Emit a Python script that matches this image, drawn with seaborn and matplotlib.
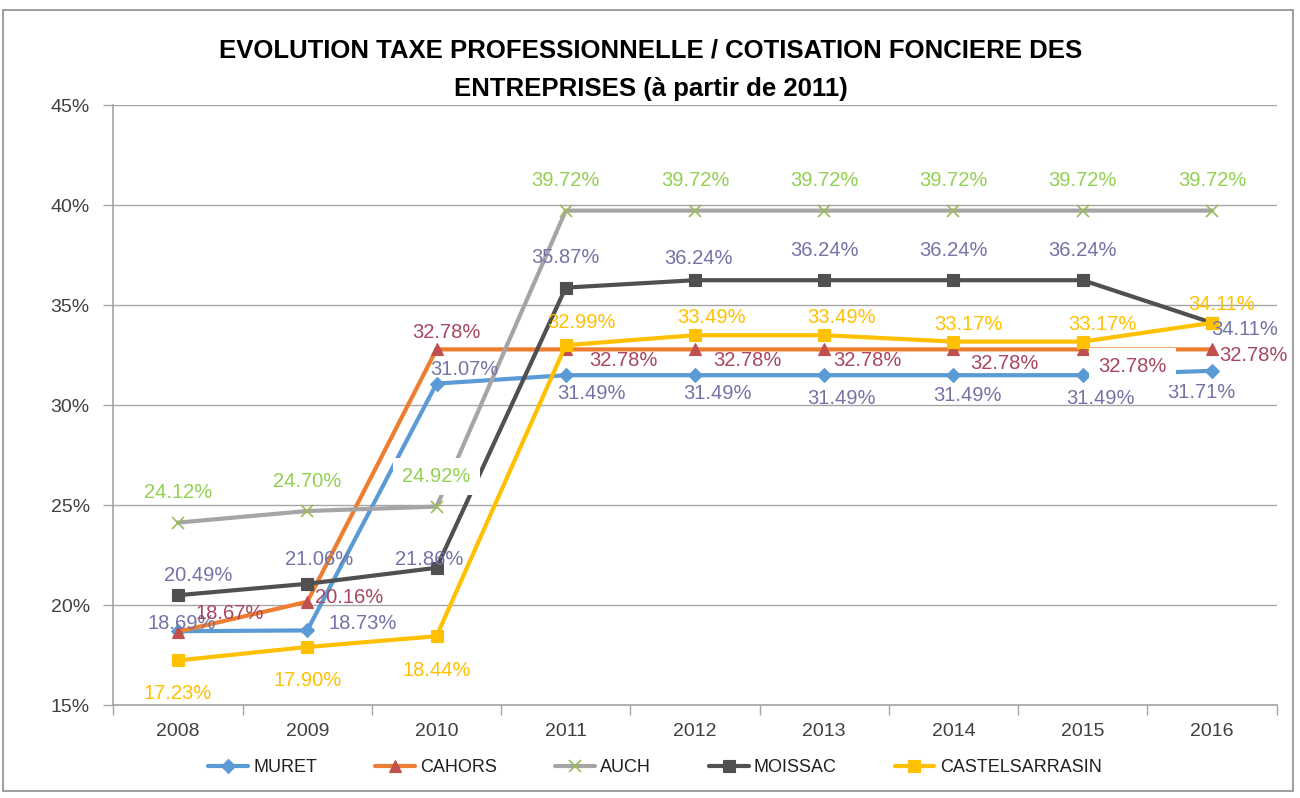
import matplotlib
matplotlib.use("Agg")
import matplotlib.pyplot as plt
from matplotlib.patches import Rectangle
from matplotlib.ticker import FixedLocator, NullFormatter, FixedFormatter
import seaborn as sns
import numpy as np

# ---- data ----
years = ["2008", "2009", "2010", "2011", "2012", "2013", "2014", "2015", "2016"]
muret = [18.69, 18.73, 31.07, 31.49, 31.49, 31.49, 31.49, 31.49, 31.71]
cahors = [18.67, 20.16, 32.78, 32.78, 32.78, 32.78, 32.78, 32.78, 32.78]
auch = [24.12, 24.70, 24.92, 39.72, 39.72, 39.72, 39.72, 39.72, 39.72]
moissac = [20.49, 21.06, 21.86, 35.87, 36.24, 36.24, 36.24, 36.24, 34.11]
castelsarrasin = [17.23, 17.90, 18.44, 32.99, 33.49, 33.49, 33.17, 33.17, 34.11]
series_names = ["MURET", "CAHORS", "AUCH", "MOISSAC", "CASTELSARRASIN"]
y_ticks = [15, 20, 25, 30, 35, 40, 45]
title_lines = ["EVOLUTION TAXE PROFESSIONNELLE / COTISATION FONCIERE DES",
               "ENTREPRISES (à partir de 2011)"]

# ---- styles ----
styles = {
    "MURET": dict(line="#5B9BD5", marker="D", mface="#5B9BD5", medge="#5B9BD5", ms=7, label="#7373A8"),
    "CAHORS": dict(line="#ED7D31", marker="^", mface="#C0504D", medge="#C0504D", ms=9, label="#A8465F"),
    "AUCH": dict(line="#A5A5A5", marker="x", mface="#9BBB59", medge="#9BBB59", ms=9, label="#92D050"),
    "MOISSAC": dict(line="#505050", marker="s", mface="#505050", medge="#505050", ms=9, label="#7373A8"),
    "CASTELSARRASIN": dict(line="#FFC000", marker="s", mface="#FFC000", medge="#FFC000", ms=9, label="#FFC000"),
}
# label offsets in pixels (dx right, dy down) relative to each point
label_offsets = {
    "MURET": [(4, -8), (55, -7), (28, -14), (26, 18), (22, 18), (17, 23), (14, 20), (18, 23), (-11, 22)],
    "CAHORS": [(52, -18), (42, -4), (10, -17), (58, 11), (52, 11), (43, 11), (51, 14), (50, 17), (41, 6)],
    "AUCH": [(0, -30)] * 9,
    "MOISSAC": [(20, -20), (12, -24), (-7, -8), (0, -30), (3, -22), (0, -30), (0, -30), (0, -30), (33, 7)],
    "CASTELSARRASIN": [(0, 33), (0, 33), (0, 34), (16, -23), (17, -18), (17, -18), (15, -17), (20, -17), (10, -18)],
}
boxed_labels = {("AUCH", 2): 0.45, ("CAHORS", 7): 0.45}

data = {"MURET": muret, "CAHORS": cahors, "AUCH": auch, "MOISSAC": moissac,
        "CASTELSARRASIN": castelsarrasin}

sns.set_theme(style="white")
plt.rcParams["font.family"] = ["Liberation Sans", "DejaVu Sans"]

fig = plt.figure(figsize=(13.0, 7.98), dpi=100)
fig.patch.set_facecolor("white")
ax = fig.add_axes([113.4 / 1300, 1 - 705 / 798, (1276.6 - 113.4) / 1300, 600 / 798])

x = np.arange(len(years))
grid_c = "#A6A6A6"
for yt in y_ticks:
    ax.axhline(yt, color=grid_c, lw=1.0, zorder=1)

handles = []
for name in series_names:
    st = styles[name]
    sns.lineplot(x=x, y=data[name], ax=ax, color=st["line"], lw=3.0,
                 marker=st["marker"], markersize=st["ms"],
                 markerfacecolor=st["mface"], markeredgecolor=st["medge"],
                 markeredgewidth=1.2 if st["marker"] == "x" else 0.8,
                 label=name, zorder=3, legend=False)
    handles.append(ax.lines[-1])

px = 0.72
for name in series_names:
    st = styles[name]
    for i, v in enumerate(data[name]):
        dx, dy = label_offsets[name][i]
        kw = {}
        if (name, i) in boxed_labels:
            kw["bbox"] = dict(boxstyle=f"square,pad={boxed_labels[(name, i)]}",
                              facecolor="white", edgecolor="none")
        ax.annotate(f"{v:.2f}%", (x[i], v), xytext=(dx * px, -dy * px),
                    textcoords="offset points", ha="center", va="center",
                    fontsize=14.5, color=st["label"], zorder=5, **kw)

ax.set_xlim(-0.5, len(years) - 0.5)
ax.set_ylim(15, 45)
ax.xaxis.set_major_locator(FixedLocator(np.arange(-0.5, len(years), 1.0)))
ax.xaxis.set_major_formatter(NullFormatter())
ax.xaxis.set_minor_locator(FixedLocator(x))
ax.xaxis.set_minor_formatter(FixedFormatter(years))
ax.tick_params(axis="x", which="major", length=7, width=1, color=grid_c, direction="out", bottom=True)
ax.tick_params(axis="x", which="minor", length=0, labelsize=14, labelcolor="#404040", pad=13, bottom=True)
ax.set_yticks(y_ticks)
ax.set_yticklabels([f"{t}%" for t in y_ticks])
ax.tick_params(axis="y", length=7, width=1, color=grid_c, direction="out", left=True,
               labelsize=14, labelcolor="#404040", pad=10)
for s in ["top", "right"]:
    ax.spines[s].set_visible(False)
ax.spines["left"].set_color(grid_c)
ax.spines["bottom"].set_color(grid_c)
ax.set_xlabel("")
ax.set_ylabel("")

fig.legend(handles, series_names, loc="center", bbox_to_anchor=(655 / 1300, 1 - 768 / 798),
           ncol=5, frameon=False, fontsize=13, handlelength=2.2, handletextpad=0.3,
           columnspacing=3.2, numpoints=1, labelcolor="#202020")

fig.text(651 / 1300, 1 - 51 / 798, title_lines[0], ha="center", va="center",
         fontsize=18.5, fontweight="bold", color="black")
fig.text(651 / 1300, 1 - 89 / 798, title_lines[1], ha="center", va="center",
         fontsize=18.5, fontweight="bold", color="black")

fig.add_artist(Rectangle((3 / 1300, 1 - 791 / 798), 1290 / 1300, 781 / 798,
                         transform=fig.transFigure, fill=False, edgecolor="#8C8C8C", lw=1.2))

fig.savefig("out.png", dpi=100, facecolor="white")
